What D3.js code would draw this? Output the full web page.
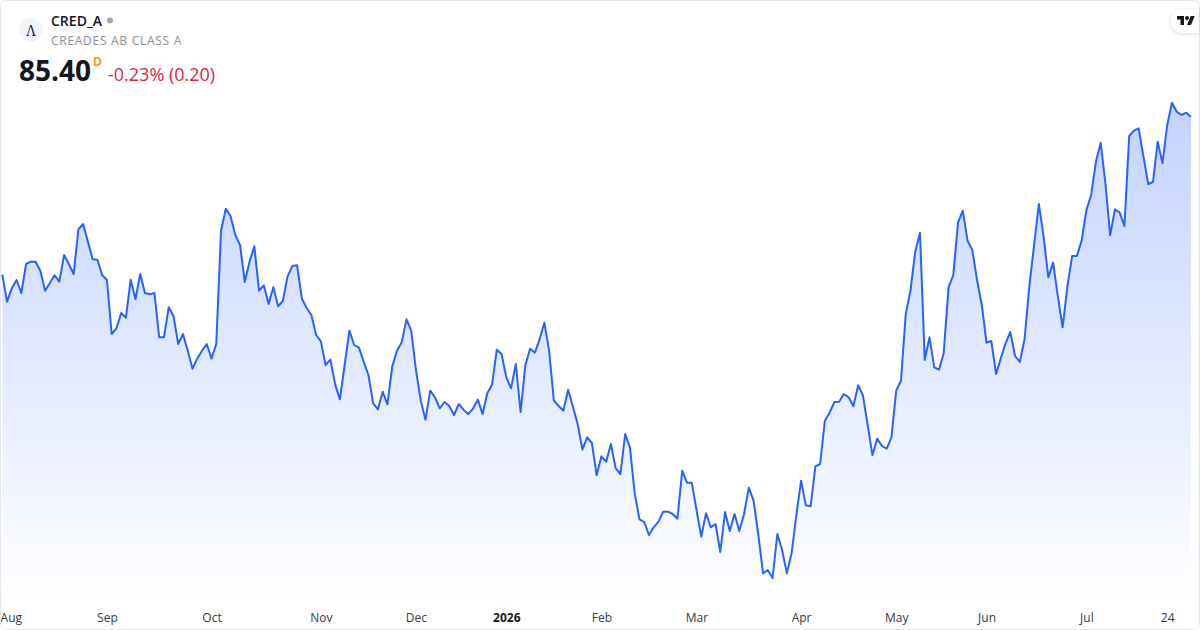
<!DOCTYPE html>
<html>
<head>
<meta charset="utf-8">
<script src="https://cdn.jsdelivr.net/npm/d3@7"></script>
<style>
  html, body { margin: 0; padding: 0; background: #fff; }
  svg { display: block; font-family: "Open Sans", sans-serif; }
</style>
</head>
<body>
<svg id="chart" width="1200" height="630"></svg>
<script>
const closes = [
  75.94,74.32,75.12,75.62,74.84,76.58,76.72,76.72,76.18,74.98,75.44,75.90,75.52,77.12,76.58,75.98,78.66,78.98,77.92,76.86,
  76.84,75.92,75.62,72.38,72.72,73.64,73.36,75.64,74.46,75.98,74.84,74.76,74.84,72.18,72.18,73.98,73.46,71.78,72.38,71.38,
  70.30,70.90,71.38,71.78,70.90,71.78,78.58,79.90,79.46,78.32,77.72,75.50,76.72,77.64,74.98,75.30,74.18,75.18,74.04,74.36,
  75.84,76.46,76.50,74.51,73.94,73.52,72.32,71.94,70.52,70.84,69.36,68.46,70.52,72.58,71.72,71.56,70.72,69.92,68.22,67.86,
  68.92,68.16,70.42,71.38,71.88,73.26,72.58,70.22,68.38,67.24,68.98,68.58,67.92,68.30,68.06,67.52,68.18,67.84,67.58,67.90,
  68.44,67.58,68.82,69.34,71.44,71.18,69.78,69.12,70.58,67.70,70.50,71.50,71.26,72.06,73.06,71.38,68.38,68.06,67.78,69.04,
  68.02,66.98,65.44,66.18,65.84,63.90,65.04,64.72,65.78,64.32,63.98,66.38,65.58,62.82,61.26,61.10,60.32,60.78,61.12,61.72,
  61.72,61.58,61.30,64.18,63.46,63.46,61.82,60.22,61.62,60.78,60.98,59.30,61.70,60.56,61.58,60.56,61.58,63.16,62.38,60.32,
  58.02,58.22,57.74,60.38,59.42,58.02,59.22,61.52,63.58,62.10,62.04,64.44,64.58,67.18,67.66,68.30,68.32,68.78,68.58,68.04,
  69.30,68.70,66.92,65.10,66.10,65.66,65.50,66.18,68.98,69.56,73.56,74.98,77.32,78.46,70.82,72.18,70.38,70.24,71.26,75.18,
  75.90,79.06,79.78,77.98,77.44,75.62,74.12,71.86,71.96,69.98,70.92,71.82,72.50,71.06,70.70,72.08,75.26,77.72,80.18,78.22,
  75.78,76.66,74.62,72.78,75.22,77.06,77.06,77.98,79.82,80.72,82.72,83.86,81.42,78.30,79.86,79.66,78.86,84.26,84.58,84.72,
  83.02,81.38,81.50,83.92,82.62,84.92,86.26,85.72,85.52,85.66,85.40
];
const tickSessions = [1.8, 22, 44, 67, 87, 106, 126, 146, 168, 188, 207, 228, 245];
const tickLabels = ["Aug", "Sep", "Oct", "Nov", "Dec", "2026", "Feb", "Mar", "Apr", "May", "Jun", "Jul", "24"];

const w = 1200, h = 630;
const svg = d3.select("#chart");

const xScale = d3.scaleLinear().domain([0, closes.length - 1]).range([2.3, 1191]);
const yScale = d3.scaleLinear().domain([92.42, 54.62]).range([0, 630]);
const paneBottom = 602;

const defs = svg.append("defs");
const grad = defs.append("linearGradient").attr("id", "areaFill")
  .attr("gradientUnits", "userSpaceOnUse")
  .attr("x1", 0).attr("x2", 0)
  .attr("y1", yScale(d3.max(closes))).attr("y2", paneBottom);
grad.append("stop").attr("offset", 0).attr("stop-color", "#2962ff").attr("stop-opacity", 0.28);
grad.append("stop").attr("offset", 1).attr("stop-color", "#2962ff").attr("stop-opacity", 0);

const shadow = defs.append("filter").attr("id", "badgeShadow")
  .attr("x", "-30%").attr("y", "-30%").attr("width", "160%").attr("height", "170%");
shadow.append("feDropShadow").attr("dx", 0).attr("dy", 1).attr("stdDeviation", 2)
  .attr("flood-color", "#000").attr("flood-opacity", 0.16);

const areaGen = d3.area()
  .x((d, i) => xScale(i))
  .y0(paneBottom)
  .y1(d => yScale(d));
const lineGen = d3.line()
  .x((d, i) => xScale(i))
  .y(d => yScale(d));

svg.append("path").datum(closes).attr("d", areaGen).attr("fill", "url(#areaFill)");
svg.append("path").datum(closes).attr("d", lineGen)
  .attr("fill", "none")
  .attr("stroke", "#2962ff")
  .attr("stroke-width", 2)
  .attr("stroke-linejoin", "round");

// time axis
const xAxis = d3.axisBottom(xScale)
  .tickValues(tickSessions)
  .tickSize(0)
  .tickPadding(0)
  .tickFormat((d, i) => tickLabels[i]);
const axisGroup = svg.append("g").attr("transform", "translate(0, 613)").call(xAxis);
axisGroup.select(".domain").remove();
axisGroup.selectAll("text")
  .style("font-family", '"Open Sans", sans-serif')
  .style("font-size", "12px")
  .style("font-weight", d => d === 106 ? 700 : 400)
  .attr("fill", d => d === 106 ? "#131722" : "#363a45");

// card border
svg.append("rect")
  .attr("x", 0.5).attr("y", 0.5)
  .attr("width", w - 1).attr("height", h - 1)
  .attr("rx", 5)
  .attr("fill", "none")
  .attr("stroke", "#e6e6e6");

// symbol header
const header = svg.append("g");
header.append("circle").attr("cx", 31).attr("cy", 30).attr("r", 12).attr("fill", "#f0f3fa");
header.append("text")
  .attr("transform", "translate(31, 36) scale(0.82, 1)")
  .attr("text-anchor", "middle")
  .style("font-family", '"Liberation Serif", serif')
  .style("font-size", "17px")
  .attr("fill", "#131722")
  .text("Λ");
header.append("text").attr("x", 51).attr("y", 26)
  .style("font-size", "14px").style("font-weight", 600)
  .attr("fill", "#131722")
  .text("CRED_A");
header.append("circle").attr("cx", 110).attr("cy", 20.5).attr("r", 3).attr("fill", "#a3a6af");
header.append("text").attr("x", 51).attr("y", 45)
  .style("font-size", "12px")
  .style("letter-spacing", "0.72px")
  .attr("fill", "#8c8f99")
  .text("CREADES AB CLASS A");
header.append("text").attr("x", 19).attr("y", 81)
  .style("font-size", "28px").style("font-weight", 700)
  .attr("fill", "#131722")
  .text("85.40");
header.append("text").attr("x", 93).attr("y", 66)
  .style("font-size", "12px").style("font-weight", 700)
  .attr("fill", "#ff9800")
  .text("D");
header.append("text").attr("x", 108).attr("y", 81)
  .style("font-size", "18px")
  .attr("fill", "#d9283d")
  .text("-0.23% (0.20)");

// logo badge
const badge = svg.append("g");
badge.append("path")
  .attr("d", "M1199,9 H1183 A12,12 0 0 0 1183,33 H1199 Z")
  .attr("fill", "#fff")
  .attr("filter", "url(#badgeShadow)");
badge.append("g").attr("transform", "translate(1177, 14) scale(0.5)").call(g => {
  g.append("path").attr("d", "M14 22H7V11H0V4h14v18zM28 22h-8l7.5-18h8L28 22z").attr("fill", "#131722");
  g.append("circle").attr("cx", 20).attr("cy", 8).attr("r", 4).attr("fill", "#131722");
});
</script>
</body>
</html>
